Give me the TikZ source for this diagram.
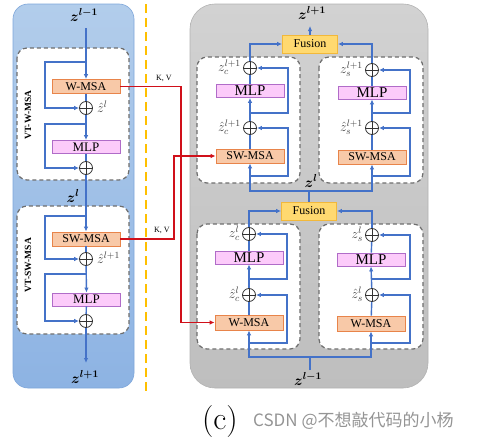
\documentclass[tikz,border=0pt]{standalone}
\usepackage{fix-cm}
\usepackage{amsmath}
\usepackage{bm}
\usepackage[no-math]{fontspec}
\setmainfont{Liberation Serif}
\newfontfamily\cjkfont{Noto Sans CJK SC}
\usetikzlibrary{arrows.meta}
\definecolor{lblue}{HTML}{4472C8}
\definecolor{lred}{HTML}{D0101A}
\definecolor{orfill}{HTML}{F8C9A8}
\definecolor{orbord}{HTML}{E8844A}
\definecolor{pkfill}{HTML}{FCCBFA}
\definecolor{pkbord}{HTML}{B06CC8}
\definecolor{fsfill}{HTML}{FFD970}
\definecolor{fsbord}{HTML}{F2B83A}
\definecolor{dgray}{HTML}{6E6E6E}
\definecolor{ylw}{HTML}{FFC000}
\definecolor{ptop}{HTML}{B2CDEB}
\definecolor{pbot}{HTML}{8DB3E3}
\definecolor{pbord}{HTML}{7EA6DA}
\definecolor{gtop}{HTML}{D2D2D2}
\definecolor{gbot}{HTML}{BEBEBE}
\begin{document}
\begin{tikzpicture}[x=1pt,y=-1pt,
  bl/.style={draw=lblue,line width=1.4pt},
  rl/.style={draw=lred,line width=1.4pt},
  arr/.style={-{Latex[length=5pt,width=4.5pt]}},
  lpanel/.style={draw=pbord,top color=ptop,bottom color=pbot,rounded corners=15pt,line width=0.6pt},
  rpanel/.style={draw=black!30,top color=gtop,bottom color=gbot,rounded corners=25pt,line width=0.6pt},
  dbox/.style={draw=dgray,dash pattern=on 4pt off 3pt,line width=1.2pt,fill=white,rounded corners=10pt},
  msabox/.style={draw=orbord,fill=orfill,line width=0.8pt,inner sep=0pt,minimum width=68pt,minimum height=14pt,font=\fontsize{12}{12}\selectfont},
  mlpbox/.style={draw=pkbord,fill=pkfill,line width=0.8pt,inner sep=0pt,minimum width=68pt,minimum height=13pt,font=\fontsize{14}{14}\selectfont},
  fusbox/.style={draw=fsbord,fill=fsfill,line width=0.8pt,inner sep=0pt,minimum width=55pt,minimum height=18pt,font=\fontsize{12}{12}\selectfont},
  opl/.style={circle,draw=black!80,fill=white,inner sep=0pt,minimum size=13pt,line width=0.8pt,
    path picture={\draw[black!80,line width=0.8pt] (path picture bounding box.north) -- (path picture bounding box.south) (path picture bounding box.west) -- (path picture bounding box.east);}},
  blab/.style={inner sep=0pt,font=\fontsize{14.5}{15}\selectfont},
  slab/.style={inner sep=0pt,text=black!75,font=\fontsize{13.5}{14}\selectfont},
  vlab/.style={inner sep=0pt,rotate=90,font=\bfseries\fontsize{9.5}{10}\selectfont},
  kvlab/.style={inner sep=0pt,font=\fontsize{8}{8}\selectfont},
  ydash/.style={draw=ylw,line width=1.6pt,dash pattern=on 9pt off 5pt}
]
\useasboundingbox (0,0) rectangle (499,439);
% ---------------- panels
\draw[lpanel] (13,4) rectangle (134,388);
\draw[rpanel] (190,4) rectangle (428,388);
\coordinate (Y1) at (146,4);
\coordinate (Y2) at (146,393);
\draw[ydash] (Y1) -- (Y2);

% ---------------- dashed sub-blocks
\draw[dbox] (17,48) rectangle (129,180);
\draw[dbox] (17,206) rectangle (129,334);
\draw[dbox] (197,57) rectangle (300,183);
\draw[dbox] (319,57) rectangle (423,183);
\draw[dbox] (197,224) rectangle (300,349);
\draw[dbox] (319,224) rectangle (423,349);

% ---------------- left column
\node[vlab] (LV1) at (28,115) {VT-W-MSA};
\node[vlab] (LV2) at (28,265) {VT-SW-MSA};

\node[blab] (Lin) at (84,15) {$\bm{z^{l-1}}$};
\coordinate (Lstart) at (86,28);
\node[msabox] (Lw) at (86,86.5) {W-MSA};
\node[opl] (Lo1) at (86,108) {};
\node[slab,anchor=west] (Lo1l) at (97,107) {$\hat{z}^{l}$};
\node[mlpbox,font=\fontsize{13}{13}\selectfont] (Lm1) at (86,147) {MLP};
\node[opl] (Lo2) at (86,168) {};
\node[blab] (Lmid) at (73,196) {$\bm{z^{l}}$};
\node[msabox] (Lsw) at (86,239) {SW-MSA};
\node[opl] (Lo3) at (86,259) {};
\node[slab,anchor=west] (Lo3l) at (97,258) {$\hat{z}^{l+1}$};
\node[mlpbox,font=\fontsize{13}{13}\selectfont] (Lm2) at (86.5,299.5) {MLP};
\node[opl] (Lo4) at (86,321) {};
\coordinate (Lend) at (86,363);
\node[blab] (Lout) at (85,377) {$\bm{z^{l+1}}$};

\coordinate (Lx) at (45,0);
\coordinate (Lk1) at (86,62);
\coordinate (Lk2) at (86,124);
\coordinate (Lk3) at (86,216);
\coordinate (Lk4) at (86,274);

\draw[bl,arr] (Lstart) -- (Lw.north);
\draw[bl] (Lw) -- (Lo1);
\draw[bl,arr] (Lo1) -- (Lm1.north);
\draw[bl] (Lm1) -- (Lo2);
\draw[bl,arr] (Lo2) -- (Lsw.north);
\draw[bl] (Lsw) -- (Lo3);
\draw[bl,arr] (Lo3) -- (Lm2.north);
\draw[bl] (Lm2) -- (Lo4);
\draw[bl,arr] (Lo4) -- (Lend);
\draw[bl,arr] (Lk1) -- (Lk1 -| Lx) |- (Lo1.west);
\draw[bl,arr] (Lk2) -- (Lk2 -| Lx) |- (Lo2.west);
\draw[bl,arr] (Lk3) -- (Lk3 -| Lx) |- (Lo3.west);
\draw[bl,arr] (Lk4) -- (Lk4 -| Lx) |- (Lo4.west);

% ---------------- right panel
\node[fusbox] (F1) at (310,44) {Fusion};
\node[fusbox] (F2) at (309,211) {Fusion};
\coordinate (Tout) at (310,26);
\node[blab] (Tlab) at (312,13) {$\bm{z^{l+1}}$};
\node[blab] (Mlab) at (311,181) {$\bm{z^{l}}$};
\coordinate (J1) at (311,191);
\coordinate (Bj) at (310,357);
\coordinate (Bin) at (310,370);
\node[blab] (Blab) at (308,379) {$\bm{z^{l-1}}$};

% upper-left
\node[opl] (ULo1) at (250,68) {};
\node[mlpbox,font=\fontsize{15}{15}\selectfont] (ULm) at (250,91) {MLP};
\node[opl] (ULo2) at (250,128) {};
\node[msabox] (ULs) at (250,156) {SW-MSA};
\node[slab,anchor=east] (ULo1l) at (241,67) {$z_c^{l+1}$};
\node[slab,anchor=east] (ULo2l) at (241,127) {$\hat{z}_c^{l+1}$};
% upper-right
\node[opl] (URo1) at (372,70) {};
\node[mlpbox,font=\fontsize{15}{15}\selectfont] (URm) at (372,92.5) {MLP};
\node[opl] (URo2) at (372,128) {};
\node[msabox] (URs) at (372,157) {SW-MSA};
\node[slab,anchor=east] (URo1l) at (363,69) {$z_s^{l+1}$};
\node[slab,anchor=east] (URo2l) at (363,127) {$\hat{z}_s^{l+1}$};
% lower-left
\node[opl] (LLo1) at (249,234) {};
\node[mlpbox,font=\fontsize{15}{15}\selectfont] (LLm) at (249,257.5) {MLP};
\node[opl] (LLo2) at (249,295) {};
\node[msabox,minimum height=15pt] (LLw) at (249,322.5) {W-MSA};
\node[slab,anchor=east] (LLo1l) at (240,233) {$z_c^{l}$};
\node[slab,anchor=east] (LLo2l) at (240,294) {$\hat{z}_c^{l}$};
% lower-right
\node[opl] (LRo1) at (372,235) {};
\node[mlpbox,font=\fontsize{15}{15}\selectfont] (LRm) at (371,259.5) {MLP};
\node[opl] (LRo2) at (372,295) {};
\node[msabox,minimum height=15pt] (LRw) at (371,323.5) {W-MSA};
\node[slab,anchor=east] (LRo1l) at (363,234) {$z_s^{l}$};
\node[slab,anchor=east] (LRo2l) at (363,294) {$\hat{z}_s^{l}$};

\coordinate (ULx) at (288,0);
\coordinate (URx) at (410,0);
\coordinate (LLx) at (287,0);
\coordinate (LRx) at (410,0);
\coordinate (ULk1) at (250,113);
\coordinate (ULk2) at (250,176);
\coordinate (URk1) at (372,113);
\coordinate (URk2) at (372,176);
\coordinate (LLk1) at (249,279);
\coordinate (LLk2) at (249,343);
\coordinate (LRk1) at (372,279);
\coordinate (LRk2) at (372,343);

% upper flows
\draw[bl,arr] (F1.north) -- (Tout);
\draw[bl] (F2) -- (F2 |- J1);
\draw[bl,arr] (F2 |- J1) -| (ULs.south);
\draw[bl,arr] (F2 |- J1) -| (URs.south);
\draw[bl] (ULs) -- (ULo2);
\draw[bl,arr] (ULo2) -- (ULm.south);
\draw[bl] (ULm) -- (ULo1);
\draw[bl,arr] (ULo1.north) |- (F1.west);
\draw[bl,arr] (ULk2) -- (ULk2 -| ULx) |- (ULo2.east);
\draw[bl,arr] (ULk1) -- (ULk1 -| ULx) |- (ULo1.east);
\draw[bl] (URs) -- (URo2);
\draw[bl,arr] (URo2) -- (URm.south);
\draw[bl] (URm) -- (URo1);
\draw[bl,arr] (URo1.north) |- (F1.east);
\draw[bl,arr] (URk2) -- (URk2 -| URx) |- (URo2.east);
\draw[bl,arr] (URk1) -- (URk1 -| URx) |- (URo1.east);
% lower flows
\draw[bl] (Bin) -- (Bj);
\draw[bl,arr] (Bj) -| (LLw.south);
\draw[bl,arr] (Bj) -| (LRw.south);
\draw[bl] (LLw) -- (LLo2);
\draw[bl,arr] (LLo2) -- (LLm.south);
\draw[bl] (LLm) -- (LLo1);
\draw[bl,arr] (LLo1.north) |- (F2.west);
\draw[bl,arr] (LLk2) -- (LLk2 -| LLx) |- (LLo2.east);
\draw[bl,arr] (LLk1) -- (LLk1 -| LLx) |- (LLo1.east);
\draw[bl] (LRw) -- (LRo2);
\draw[bl,arr] (LRo2) -- (LRm.south);
\draw[bl] (LRm) -- (LRo1);
\draw[bl,arr] (LRo1.north) |- (F2.east);
\draw[bl,arr] (LRk2) -- (LRk2 -| LRx) |- (LRo2.east);
\draw[bl,arr] (LRk1) -- (LRk1 -| LRx) |- (LRo1.east);

% ---------------- red K,V links
\coordinate (Rr1) at (181,0);
\coordinate (Rr2) at (174,0);
\draw[rl,arr] (Lw.east) -- (Lw.east -| Rr1) |- (LLw.west);
\draw[rl,arr] (Lsw.east) -- (Lsw.east -| Rr2) |- (ULs.west);
\node[kvlab] (KV1) at (164,78) {K, V};
\node[kvlab] (KV2) at (162,230) {K, V};

% ---------------- caption
\node[inner sep=0pt] (Cap) at (220,421) {\fontsize{32}{32}\selectfont$(\mathrm{c})$};
\node[inner sep=0pt,anchor=west,text=black!42] (Wm) at (253,421) {\cjkfont\fontsize{17}{17}\selectfont CSDN @不想敲代码的小杨};
\end{tikzpicture}
\end{document}
